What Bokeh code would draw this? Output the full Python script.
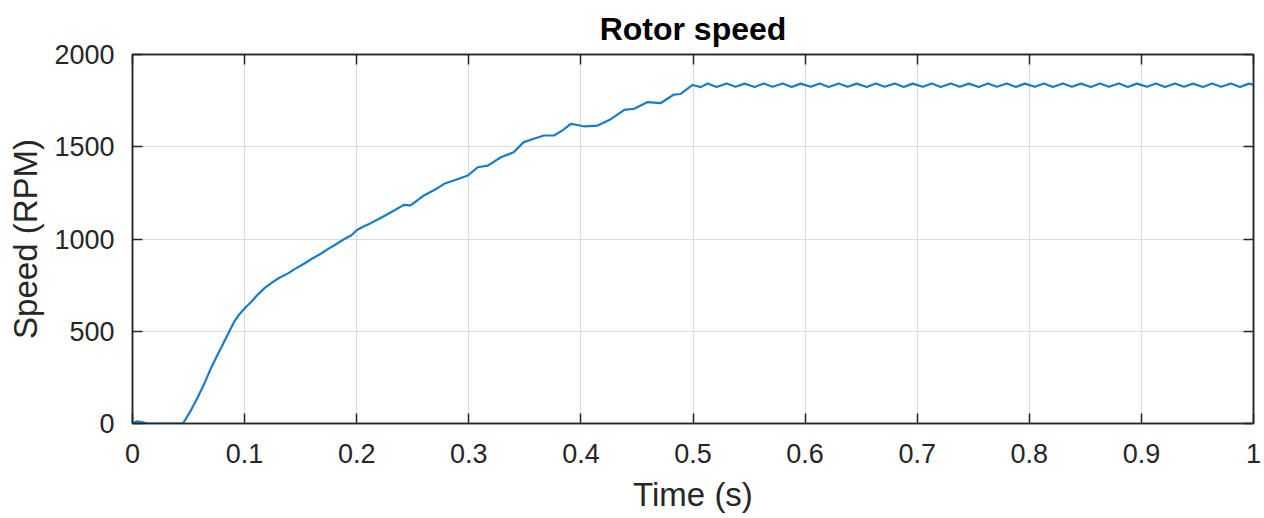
from bokeh.plotting import figure
from bokeh.models import Range1d, FixedTicker, LinearAxis, NumeralTickFormatter, CustomLabelingPolicy
from bokeh.embed import file_html
from bokeh.resources import INLINE

# ---- data ----
ramp_time = [0.000, 0.004, 0.008, 0.014, 0.020, 0.030, 0.045, 0.052, 0.058, 0.064,
             0.070, 0.077, 0.084, 0.0905, 0.095, 0.101, 0.106, 0.111, 0.118, 0.125,
             0.131, 0.138, 0.145, 0.153, 0.160, 0.168, 0.175, 0.183, 0.189, 0.195,
             0.2006, 0.206, 0.2125, 0.220, 0.227, 0.235, 0.242, 0.248, 0.252, 0.260,
             0.270, 0.278, 0.288, 0.299, 0.308, 0.317, 0.3286, 0.340, 0.349, 0.358,
             0.367, 0.376, 0.384, 0.391, 0.397, 0.403, 0.415, 0.427, 0.4387, 0.4476,
             0.4595, 0.471, 0.483, 0.489, 0.4997, 0.507]
ramp_speed = [0, 12, 8, 0, 0, 0, 0, 70, 140, 215,
              300, 386, 470, 549, 590, 630, 660, 694, 735, 766,
              790, 811, 838, 866, 893, 920, 948, 977, 1000, 1019,
              1050, 1068, 1086, 1110, 1133, 1160, 1185, 1182, 1200, 1236,
              1268, 1299, 1320, 1344, 1389, 1398, 1443, 1470, 1525, 1543,
              1561, 1561, 1590, 1624, 1618, 1610, 1615, 1651, 1700, 1706,
              1742, 1736, 1783, 1786, 1835, 1823]

steady_time = [0.513, 0.521, 0.530, 0.538, 0.546, 0.555, 0.563, 0.571, 0.580, 0.588,
               0.596, 0.605, 0.613, 0.621, 0.630, 0.638, 0.646, 0.655, 0.663, 0.671,
               0.680, 0.688, 0.696, 0.705, 0.713, 0.721, 0.730, 0.738, 0.746, 0.755,
               0.763, 0.771, 0.780, 0.788, 0.796, 0.805, 0.813, 0.821, 0.830, 0.838,
               0.846, 0.855, 0.863, 0.871, 0.880, 0.888, 0.896, 0.905, 0.913, 0.921,
               0.930, 0.938, 0.946, 0.955, 0.963, 0.971, 0.980, 0.988, 0.996, 1.000]
steady_speed = [1843, 1824, 1843, 1825, 1842, 1824, 1843, 1825, 1843, 1824,
                1842, 1825, 1843, 1824, 1843, 1825, 1842, 1824, 1843, 1825,
                1843, 1824, 1842, 1825, 1843, 1824, 1843, 1825, 1842, 1824,
                1843, 1825, 1843, 1824, 1842, 1825, 1843, 1824, 1843, 1825,
                1842, 1824, 1843, 1825, 1843, 1824, 1842, 1825, 1843, 1824,
                1843, 1825, 1842, 1824, 1843, 1825, 1843, 1824, 1842, 1836]

x_ticks = [0, 0.1, 0.2, 0.3, 0.4, 0.5, 0.6, 0.7, 0.8, 0.9, 1.0]
y_ticks = [0, 500, 1000, 1500, 2000]

time = ramp_time + steady_time
speed = ramp_speed + steady_speed

FONT = "Liberation Sans"
DARK = "#262626"

p = figure(width=1264, height=518, output_backend="svg", toolbar_location=None,
           x_range=Range1d(0, 1), y_range=Range1d(0, 2000),
           min_border_left=132, min_border_right=11, min_border_top=54, min_border_bottom=95,
           background_fill_color="white", border_fill_color="white")

p.title.text = "Rotor speed"
p.title.align = "center"
p.title.text_font = FONT
p.title.text_font_size = "32px"
p.title.text_font_style = "bold"
p.title.text_color = "black"
p.title.standoff = 8

p.line(time, speed, line_color="#1a7cc6", line_width=2.2, line_join="round")

for ax in (p.xaxis[0], p.yaxis[0]):
    ax.axis_line_color = DARK
    ax.axis_line_width = 1.5
    ax.major_tick_line_color = DARK
    ax.major_tick_line_width = 1.5
    ax.major_tick_in = 10
    ax.major_tick_out = 0
    ax.minor_tick_line_color = None
    ax.major_label_text_font = FONT
    ax.major_label_text_font_size = "27px"
    ax.major_label_text_color = DARK
    ax.axis_label_text_font = FONT
    ax.axis_label_text_font_size = "33px"
    ax.axis_label_text_font_style = "normal"
    ax.axis_label_text_color = DARK

p.xaxis[0].ticker = FixedTicker(ticks=x_ticks)
p.xaxis[0].formatter = NumeralTickFormatter(format="0.[0]")
p.xaxis[0].axis_label = "Time (s)"
p.xaxis[0].major_label_standoff = 20
p.xaxis[0].axis_label_standoff = 10

p.yaxis[0].ticker = FixedTicker(ticks=y_ticks)
p.yaxis[0].axis_label = "Speed (RPM)"
p.yaxis[0].major_label_standoff = 18
p.yaxis[0].axis_label_standoff = 7

p.xgrid.ticker = FixedTicker(ticks=x_ticks)
p.ygrid.ticker = FixedTicker(ticks=y_ticks)
for g in (p.xgrid, p.ygrid):
    g.grid_line_color = "#dcdcdc"
    g.grid_line_width = 1.2

# mirrored box ticks on top and right, without labels
no_labels = """
const n = indices.size
for (let i = 0; i < n; i++) { indices.unset(i) }
return indices
"""

def box_axis(ticks):
    return LinearAxis(ticker=FixedTicker(ticks=ticks),
                      major_label_policy=CustomLabelingPolicy(code=no_labels),
                      major_label_text_font_size="1px",
                      major_label_standoff=0, major_tick_in=10, major_tick_out=0,
                      minor_tick_line_color=None, axis_line_color=DARK, axis_line_width=1.5,
                      major_tick_line_color=DARK, major_tick_line_width=1.5)

p.add_layout(box_axis(x_ticks), "above")
p.add_layout(box_axis(y_ticks), "right")
p.outline_line_color = DARK
p.outline_line_width = 1.5

open("out.html", "w").write(file_html(p, INLINE))
